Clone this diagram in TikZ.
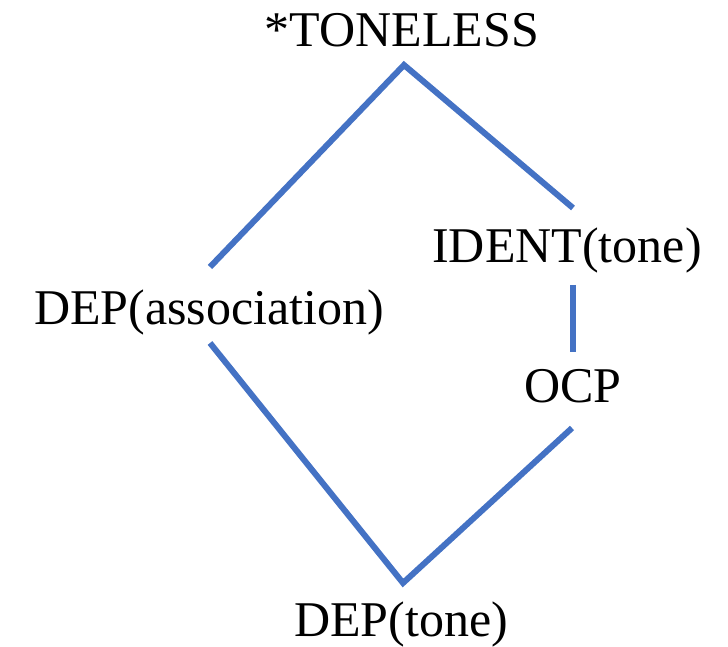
\documentclass[tikz,border=0pt]{standalone}
\usepackage{fontspec}
\setmainfont{Liberation Serif}
\definecolor{linkblue}{RGB}{68,114,196}
\begin{document}
\begin{tikzpicture}[x=1pt,y=1pt,
  lbl/.style={anchor=base,inner sep=0pt,font=\fontsize{50}{60}\selectfont},
  link/.style={draw=linkblue,line width=6pt,line join=miter}]
\useasboundingbox (0,0) rectangle (728,647);
\node[lbl] (toneless) at (402,600) {*TONELESS};
\node[lbl] (ident) at (567,384) {IDENT(tone)};
\node[lbl] (assoc) at (209,322) {DEP(association)};
\node[lbl] (ocp) at (573,244) {OCP};
\node[lbl] (deptone) at (401,10) {DEP(tone)};
\coordinate (apex) at (404,582);
\coordinate (bottom) at (403,64);
\coordinate (assocTop) at (210,380);
\coordinate (assocBot) at (210,304);
\coordinate (identTop) at (573,439);
\coordinate (identBot) at (573,362);
\coordinate (ocpTop) at (573,295);
\coordinate (ocpBot) at (572,219);
\draw[link] (assocTop) -- (apex) -- (identTop);
\draw[link] (identBot) -- (ocpTop);
\draw[link] (assocBot) -- (bottom) -- (ocpBot);
\end{tikzpicture}
\end{document}
